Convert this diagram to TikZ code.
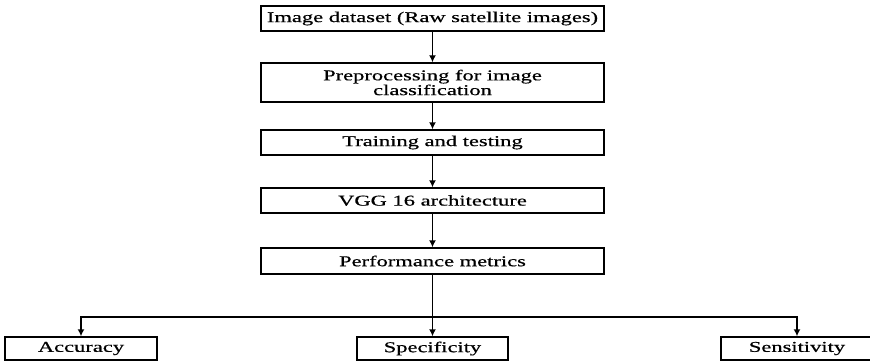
\documentclass[tikz,border=0pt]{standalone}
\usepackage{fontspec}
\setmainfont{Liberation Serif}
\newfontfamily\widefont[FakeStretch=1.5,FakeBold=0.6]{Liberation Serif}
\usetikzlibrary{arrows.meta}
\tikzset{
  stagebox/.style={draw=black, line width=1.4pt, rectangle, inner sep=0pt,
    minimum height=25pt, align=center,
    font=\widefont\fontsize{15pt}{12.5pt}\selectfont},
  flow/.style={line width=1.7pt, -{Latex[length=7pt,width=7pt]}},
}
\begin{document}
\begin{tikzpicture}[x=1pt,y=-1pt]
  \useasboundingbox (0,0) rectangle (870,361);
  \clip (0,0) rectangle (870,361);
  % pipeline stages
  \node[stagebox, minimum width=343pt] (data) at (432.5,18.5) {Image dataset (Raw satellite images)};
  \node[stagebox, minimum width=343pt, minimum height=39pt] (prep) at (432.5,82.5) {Preprocessing for image\\classification};
  \node[stagebox, minimum width=343pt] (train) at (432.5,142.5) {Training and testing};
  \node[stagebox, minimum width=343pt] (vgg) at (432.5,200.5) {VGG 16 architecture};
  \node[stagebox, minimum width=343pt, minimum height=26pt] (perf) at (432.5,261) {Performance metrics};
  % metrics
  \node[stagebox, minimum width=152pt, minimum height=23pt] (acc) at (81,348.5) {Accuracy};
  \node[stagebox, minimum width=151pt, minimum height=23pt] (spec) at (432.5,348.5) {Specificity};
  \node[stagebox, minimum width=152pt, minimum height=23pt] (sens) at (797,348.5) {Sensitivity};
  % connectors
  \draw[flow] (data) -- (prep);
  \draw[flow] (prep) -- (train);
  \draw[flow] (train) -- (vgg);
  \draw[flow] (vgg) -- (perf);
  \draw[flow] (perf) -- (spec);
  \coordinate (split) at (432.5,317);
  \draw[flow] (split) -| (acc.north);
  \draw[flow] (split) -| (sens.north);
\end{tikzpicture}
\end{document}
